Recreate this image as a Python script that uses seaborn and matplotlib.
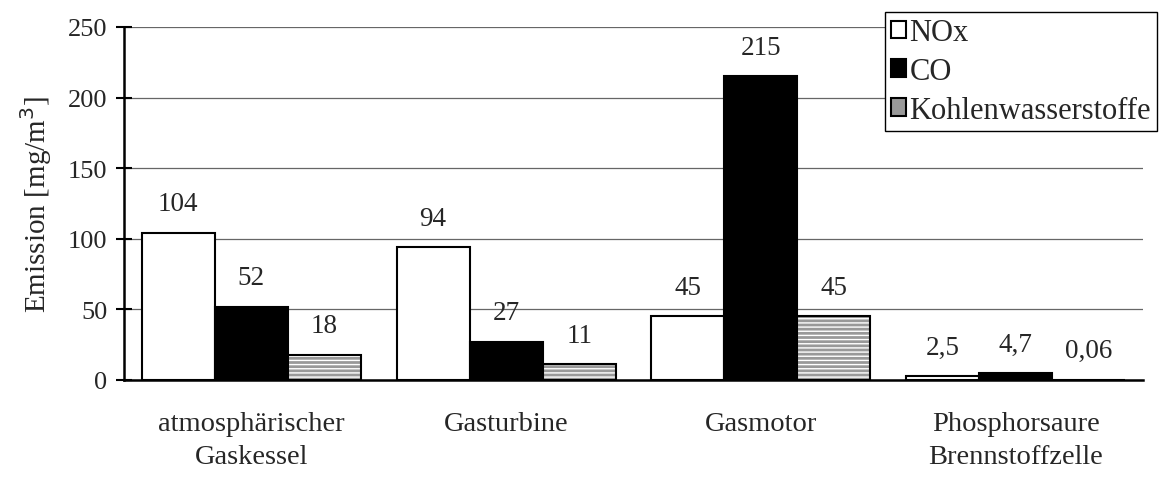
import matplotlib
matplotlib.use("Agg")
import matplotlib.pyplot as plt
import matplotlib.colors as mcolors
import seaborn as sns
import pandas as pd

# Emissionswerte je Anlage
categories = ["atmosphärischer\nGaskessel", "Gasturbine", "Gasmotor", "Phosphorsaure\nBrennstoffzelle"]
series = ["NOx", "CO", "Kohlenwasserstoffe"]
nox = [104, 94, 45, 2.5]
co = [52, 27, 215, 4.7]
hc = [18, 11, 45, 0.06]
value_labels = {
    "NOx": ["104", "94", "45", "2,5"],
    "CO": ["52", "27", "215", "4,7"],
    "Kohlenwasserstoffe": ["18", "11", "45", "0,06"],
}
y_ticks = [0, 50, 100, 150, 200, 250]

df = pd.DataFrame({
    "Anlage": categories * 3,
    "Stoff": [s for s in series for _ in categories],
    "Emission": nox + co + hc,
})

sns.set_theme(style="white")
plt.rcParams["font.family"] = ["Liberation Serif", "DejaVu Serif"]
plt.rcParams["hatch.linewidth"] = 1.0

fig = plt.figure(figsize=(11.6, 4.81), dpi=100)
ax = fig.add_axes([124 / 1160, 1 - 381 / 481, (1143 - 124) / 1160, (381 - 28) / 481])

palette = {"NOx": "white", "CO": "black", "Kohlenwasserstoffe": "0.6"}
sns.barplot(data=df, x="Anlage", y="Emission", hue="Stoff", hue_order=series,
            order=categories, palette=palette, width=0.86, gap=0,
            edgecolor="black", linewidth=1.5, saturation=1, ax=ax, legend=True)

# horizontal stripes on the hydrocarbon bars
for p in ax.containers[2]:
    p.set_hatch("----")
    p._hatch_color = mcolors.to_rgba("white")

for cont, s in zip(ax.containers, series):
    ax.bar_label(cont, labels=value_labels[s], padding=12, fontsize=19.5)

ax.set_ylim(0, 250)
ax.set_xlim(-0.5, 3.5)
ax.set_yticks(y_ticks)
ax.yaxis.grid(True, color="0.4", linewidth=0.9)
ax.set_axisbelow(True)
for side in ["top", "right"]:
    ax.spines[side].set_visible(False)
for side in ["left", "bottom"]:
    ax.spines[side].set_linewidth(1.8)
    ax.spines[side].set_color("black")

# group boundaries as major ticks, category names on minor ticks
n = len(categories)
ax.set_xticks([i + 0.5 for i in range(n)])
ax.set_xticklabels([""] * n)
ax.set_xticks(range(n), minor=True)
ax.set_xticklabels(categories, minor=True, fontsize=20.5, linespacing=1.45)
ax.tick_params(axis="x", which="minor", length=0, pad=22)
ax.tick_params(axis="x", which="major", direction="inout", length=12, width=1.8, color="black")
ax.tick_params(axis="y", direction="inout", length=12, width=1.5, color="black", labelsize=19, pad=6, left=True)

ax.set_xlabel("")
ax.set_ylabel("Emission [mg/m$^3$]", fontsize=21, labelpad=10)

handles, labels = ax.get_legend_handles_labels()
ax.legend(handles, labels, loc="upper left", bbox_to_anchor=(885 / 1160, 1 - 13 / 481),
          bbox_transform=fig.transFigure, frameon=True, fancybox=False, shadow=False,
          edgecolor="black", framealpha=1, fontsize=22, handlelength=0.5, handleheight=0.5,
          handletextpad=0.1, labelspacing=0.32, borderpad=0.2, borderaxespad=0, title=None)
ax.get_legend().get_frame().set_linewidth(1.0)

fig.savefig("out.png", dpi=100)
